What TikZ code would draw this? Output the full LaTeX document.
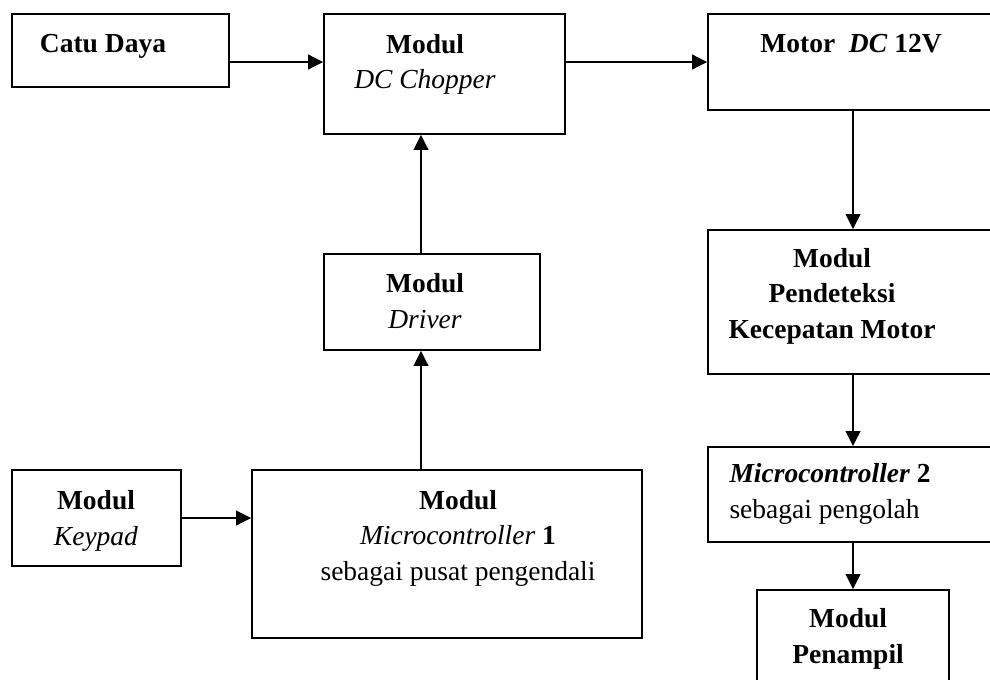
\documentclass[tikz,border=0pt]{standalone}
\usepackage{fontspec}
\setmainfont{Liberation Serif}
\usepackage{tikz}
\usetikzlibrary{arrows.meta, positioning}

\begin{document}
\begin{tikzpicture}[
        x=0.4pt, y=-0.4pt,
        kotak/.style={draw, line width=0.7pt, inner sep=0pt},
        teks/.style={inner sep=0pt, align=center, font=\fontsize{11}{14.2}\selectfont},
        panah/.style={-{Triangle[length=6pt,width=5.8pt]}, line width=0.95pt}
    ]
    \useasboundingbox (0,0) rectangle (990,679);
    \clip (0,0) rectangle (990,679);
    % Define boxes
    \node[kotak, minimum width=86.8pt, minimum height=29.2pt] (catu) at (120.5,50.5) {};
    \node[kotak, minimum width=96.4pt, minimum height=48pt] (chopper) at (444.5,74) {};
    \node[kotak, minimum width=116pt, minimum height=38.4pt] (motor) at (853,62) {};
    \node[kotak, minimum width=86.4pt, minimum height=38.4pt] (driver) at (432,302) {};
    \node[kotak, minimum width=116pt, minimum height=57.6pt] (deteksi) at (853,302) {};
    \node[kotak, minimum width=116pt, minimum height=38pt] (mikro2) at (853,494.5) {};
    \node[kotak, minimum width=76.8pt, minimum height=52pt] (tampil) at (853,655) {};
    \node[kotak, minimum width=67.6pt, minimum height=38.4pt] (keypad) at (96.5,518) {};
    \node[kotak, minimum width=156pt, minimum height=67.2pt] (mikro1) at (447,554) {};
    % Define texts (base = last line)
    \node[teks, anchor=base] (catu-t) at (103,53) {\textbf{Catu Daya}};
    \node[teks, anchor=base] (chopper-t) at (425,89) {\textbf{Modul}\\ \textit{DC Chopper}};
    \node[teks, anchor=base] (motor-t) at (851,53) {\textbf{Motor\ \ \textit{DC} 12V}};
    \node[teks, anchor=base] (driver-t) at (425,328) {\textbf{Modul}\\ \textit{Driver}};
    \node[teks, anchor=base] (deteksi-t) at (832,338) {\textbf{Modul}\hspace{12pt}\\ \textbf{Pendeteksi}\\ \textbf{Kecepatan Motor}};
    \node[teks, anchor=base west, align=left] (mikro2-t) at (729,518) {\textbf{\textit{Microcontroller} 2}\\ sebagai pengolah};
    \node[teks, anchor=base] (tampil-t) at (848,663) {\textbf{Modul}\\ \textbf{Penampil}};
    \node[teks, anchor=base] (keypad-t) at (96,545) {\textbf{Modul}\\ \textit{Keypad}};
    \node[teks, anchor=base] (mikro1-t) at (458,580) {\textbf{Modul}\\ \textit{Microcontroller} \textbf{1}\\ sebagai pusat pengendali};
    \coordinate (jalur) at (421,0);
    % Draw arrows
    \draw[panah] (catu.east |- motor.west) -- (chopper.west |- motor.west);
    \draw[panah] (chopper.east |- motor.west) -- (motor.west);
    \draw[panah] (driver.north -| jalur) -- (chopper.south -| jalur);
    \draw[panah] (mikro1.north -| jalur) -- (driver.south -| jalur);
    \draw[panah] (keypad.east) -- (mikro1.west |- keypad.east);
    \draw[panah] (motor.south) -- (deteksi.north);
    \draw[panah] (deteksi.south) -- (mikro2.north);
    \draw[panah] (mikro2.south) -- (tampil.north);
\end{tikzpicture}
\end{document}
